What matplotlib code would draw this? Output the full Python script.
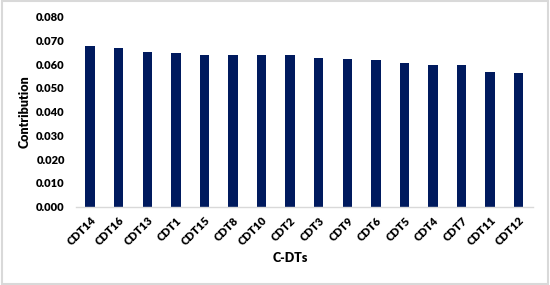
import matplotlib.pyplot as plt
from matplotlib.patches import Rectangle

categories = ['CDT14', 'CDT16', 'CDT13', 'CDT1', 'CDT15', 'CDT8', 'CDT10', 'CDT2',
              'CDT3', 'CDT9', 'CDT6', 'CDT5', 'CDT4', 'CDT7', 'CDT11', 'CDT12']
contribution = [0.0678, 0.0667, 0.0653, 0.0649, 0.0640, 0.0640, 0.0640, 0.0637,
                0.0626, 0.0621, 0.0616, 0.0604, 0.0596, 0.0595, 0.0567, 0.0562]
yticks = [0.0, 0.01, 0.02, 0.03, 0.04, 0.05, 0.06, 0.07, 0.08]

plt.rcParams['font.family'] = ['Lato', 'DejaVu Sans']

fig = plt.figure(figsize=(5.5, 2.85), dpi=100)
ax = fig.add_axes([0.138, 0.275, 0.831, 0.666])

x = range(len(categories))
ax.bar(x, contribution, width=0.33, color='#001a5e')

ax.set_xlim(-0.5, len(categories) - 0.5)
ax.set_ylim(0, 0.08)
ax.set_yticks(yticks)
ax.set_yticklabels([f'{v:.3f}' for v in yticks], fontsize=8, fontweight='heavy')
ax.set_xticks(list(x))
ax.set_xticklabels(categories, rotation=45, ha='right', rotation_mode='anchor',
                   fontsize=8, fontweight='heavy')
ax.tick_params(axis='y', length=0, pad=8)
ax.tick_params(axis='x', length=0, pad=6)

for s in ['top', 'right', 'left']:
    ax.spines[s].set_visible(False)
ax.spines['bottom'].set_color('#d9d9d9')
ax.spines['bottom'].set_linewidth(1)

ax.set_ylabel('Contribution', fontsize=9, fontweight='heavy', labelpad=4)
fig.text(0.527, 0.093, 'C-DTs', fontsize=9, fontweight='heavy', ha='center', va='center')

fig.patches.append(Rectangle((0.003, 0.005), 0.994, 0.99, transform=fig.transFigure,
                             fill=False, edgecolor='#d9d9d9', linewidth=1.5))

fig.savefig('out.png', dpi=100)
